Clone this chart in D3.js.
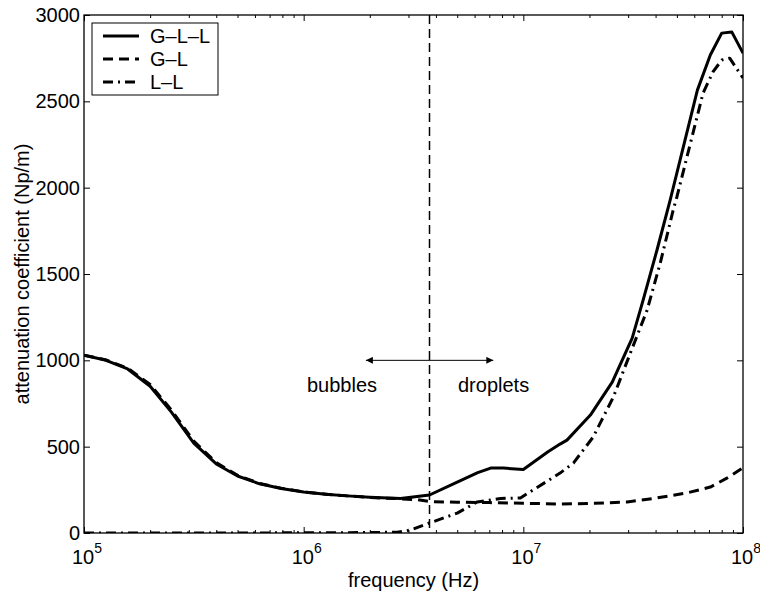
<!DOCTYPE html>
<html>
<head>
<meta charset="utf-8">
<script src="https://cdn.jsdelivr.net/npm/d3@7"></script>
<style>
  body { margin: 0; background: #fff; }
  svg text { font-family: "Liberation Sans", Arial, Helvetica, sans-serif; fill: #000; }
</style>
</head>
<body>
<svg id="chart"></svg>
<script>
// Chart size
const width = 760, height = 594;
const margin = { top: 15, right: 17, bottom: 61, left: 84 };

// Data (frequency in Hz, attenuation in Np/m)
const freqGLL = [1e5, 1.26e5, 1.58e5, 2e5, 2.5e5, 3.16e5, 4e5, 5e5, 6.3e5, 7.9e5, 1e6, 1.26e6, 1.58e6, 2e6, 2.76e6,
  3.74e6, 5e6, 6.2e6, 7.1e6, 8.1e6, 1e7, 1.29e7, 1.47e7, 1.58e7, 2.02e7, 2.54e7, 3.13e7, 3.51e7, 4.06e7, 4.66e7,
  6.2e7, 7.1e7, 8e7, 8.9e7, 1e8];
const gll = [1030, 1000, 950, 850, 700, 520, 400, 330, 285, 258, 238, 225, 215, 207, 200,
  220, 295, 350, 376, 376, 368, 469, 515, 538, 683, 874, 1129, 1349, 1639, 1928,
  2565, 2768, 2895, 2901, 2779];

const freqGL = [1e5, 1.26e5, 1.58e5, 2e5, 2.5e5, 3.16e5, 4e5, 5e5, 6.3e5, 7.9e5, 1e6, 1.26e6, 1.58e6, 2e6, 2.76e6,
  3.3e6, 3.74e6, 5e6, 7e6, 1e7, 1.47e7, 2.1e7, 2.97e7, 4.06e7, 5.56e7, 7.1e7, 8.45e7, 1e8];
const gl = [1030, 1002, 955, 860, 712, 532, 408, 334, 287, 259, 238, 225, 215, 206, 198,
  193, 182, 178, 176, 172, 168, 172, 180, 203, 232, 266, 318, 378];

const freqLL = [1e5, 3e5, 1e6, 1.6e6, 2.2e6, 2.67e6, 3.06e6, 3.74e6, 5e6, 6.17e6, 7.86e6, 9.7e6, 1.11e7, 1.47e7,
  1.69e7, 2.08e7, 2.57e7, 3.07e7, 3.66e7, 4.2e7, 4.81e7, 5e7, 6.58e7, 7.3e7, 8e7, 8.7e7, 1e8];
const ll = [0, 0, 1, 2, 3, 5, 17, 58, 115, 180, 200, 203, 250, 347,
  405, 556, 788, 1042, 1291, 1563, 1870, 1946, 2548, 2670, 2739, 2750, 2635];

const xMajor = [1e5, 1e6, 1e7, 1e8];
const xExp = ["5", "6", "7", "8"];
const yTicks = [0, 500, 1000, 1500, 2000, 2500, 3000];
const legendLabels = ["G\u2013L\u2013L", "G\u2013L", "L\u2013L"];

// Regime boundary and annotations
const boundaryFreq = 3.74e6;
const arrowFrom = 1.92e6, arrowTo = 7.3e6, arrowLevel = 1000;

const svg = d3.select("#chart")
  .attr("width", width)
  .attr("height", height);

const x = d3.scaleLog()
  .domain([1e5, 1e8])
  .range([margin.left, width - margin.right]);

const y = d3.scaleLinear()
  .domain([0, 3000])
  .range([height - margin.bottom, margin.top]);

// Minor log ticks
const xMinor = [];
xMajor.slice(0, -1).forEach(d => {
  for (let k = 2; k <= 9; k++) xMinor.push(d * k);
});

const x0 = margin.left, x1 = width - margin.right;
const y0 = height - margin.bottom, y1 = margin.top;

// Axes (ticks pointing inward, MATLAB style)
svg.append("g")
  .attr("transform", `translate(0,${y0})`)
  .call(d3.axisBottom(x).tickValues(xMajor).tickSize(-6).tickFormat(""));
svg.append("g")
  .attr("transform", `translate(0,${y0})`)
  .call(d3.axisBottom(x).tickValues(xMinor).tickSize(-3).tickFormat(""));
svg.append("g")
  .attr("transform", `translate(0,${y1})`)
  .call(d3.axisTop(x).tickValues(xMajor).tickSize(-6).tickFormat(""));
svg.append("g")
  .attr("transform", `translate(0,${y1})`)
  .call(d3.axisTop(x).tickValues(xMinor).tickSize(-3).tickFormat(""));
svg.append("g")
  .attr("transform", `translate(${x0},0)`)
  .call(d3.axisLeft(y).tickValues(yTicks).tickSize(-6).tickPadding(4).tickFormat(d3.format("d")))
  .selectAll("text")
  .style("font-size", "20px");
svg.append("g")
  .attr("transform", `translate(${x1},0)`)
  .call(d3.axisRight(y).tickValues(yTicks).tickSize(-6).tickFormat(""));

svg.selectAll(".domain").remove();
svg.selectAll(".tick line").attr("stroke", "#000").attr("stroke-width", 1);

// x tick labels as 10^n
xMajor.forEach((d, i) => {
  const t = svg.append("text")
    .attr("x", x(d) - 12)
    .attr("y", y0 + 31)
    .style("font-size", "20px");
  t.append("tspan").text("10");
  t.append("tspan")
    .attr("dy", -11)
    .style("font-size", "14px")
    .text(xExp[i]);
});

// Frame
svg.append("rect")
  .attr("x", x0).attr("y", y1)
  .attr("width", x1 - x0).attr("height", y0 - y1)
  .attr("fill", "none")
  .attr("stroke", "#000")
  .attr("stroke-width", 1.3);

// Curves
const series = [
  { f: freqGLL, v: gll, dash: null },
  { f: freqGL, v: gl, dash: "10,6" },
  { f: freqLL, v: ll, dash: "10,5,2,5" }
];

const line = d3.line()
  .x(d => x(d[0]))
  .y(d => y(d[1]));

svg.append("defs").append("clipPath")
  .attr("id", "plotClip")
  .append("rect")
  .attr("x", x0).attr("y", y1 - 3)
  .attr("width", x1 - x0).attr("height", y0 - y1 + 3);

// draw L-L first so solid sits on top
series.slice().reverse().forEach(s => {
  svg.append("path")
    .datum(d3.zip(s.f, s.v))
    .attr("d", line)
    .attr("clip-path", "url(#plotClip)")
    .attr("fill", "none")
    .attr("stroke", "#000")
    .attr("stroke-width", 3)
    .attr("stroke-linejoin", "round")
    .attr("stroke-dasharray", s.dash);
});

// Boundary between bubbles and droplets
svg.append("line")
  .attr("x1", x(boundaryFreq)).attr("x2", x(boundaryFreq))
  .attr("y1", y1).attr("y2", y0)
  .attr("stroke", "#000")
  .attr("stroke-width", 1.5)
  .attr("stroke-dasharray", "9,5");

// Double-headed arrow
const marker = svg.select("defs").append("marker")
  .attr("id", "arrowHead")
  .attr("viewBox", "0 0 10 10")
  .attr("refX", 10).attr("refY", 5)
  .attr("markerWidth", 9).attr("markerHeight", 7)
  .attr("markerUnits", "userSpaceOnUse")
  .attr("orient", "auto-start-reverse");
marker.append("path").attr("d", "M0,0 L10,5 L0,10 Z").attr("fill", "#000");

svg.append("line")
  .attr("x1", x(arrowFrom)).attr("x2", x(arrowTo))
  .attr("y1", y(arrowLevel)).attr("y2", y(arrowLevel))
  .attr("stroke", "#000")
  .attr("stroke-width", 1)
  .attr("marker-start", "url(#arrowHead)")
  .attr("marker-end", "url(#arrowHead)");

svg.append("text")
  .attr("x", 307).attr("y", 392)
  .style("font-size", "20px")
  .text("bubbles");
svg.append("text")
  .attr("x", 458).attr("y", 392)
  .style("font-size", "20px")
  .text("droplets");

// Axis titles
svg.append("text")
  .attr("x", (x0 + x1) / 2)
  .attr("y", height - 7)
  .attr("text-anchor", "middle")
  .style("font-size", "20px")
  .text("frequency (Hz)");

svg.append("text")
  .attr("transform", `translate(29,${(y0 + y1) / 2}) rotate(-90)`)
  .attr("text-anchor", "middle")
  .style("font-size", "20px")
  .text("attenuation coefficient (Np/m)");

// Legend
const legend = svg.append("g").attr("transform", "translate(92,23)");
legend.append("rect")
  .attr("width", 126).attr("height", 72)
  .attr("fill", "#fff")
  .attr("stroke", "#000")
  .attr("stroke-width", 1);

legendLabels.forEach((lab, i) => {
  const ly = 13 + i * 23;
  legend.append("line")
    .attr("x1", 11).attr("x2", 47)
    .attr("y1", ly).attr("y2", ly)
    .attr("stroke", "#000")
    .attr("stroke-width", 3)
    .attr("stroke-dasharray", series[i].dash);
  legend.append("text")
    .attr("x", 58).attr("y", ly + 7)
    .style("font-size", "20px")
    .text(lab);
});
</script>
</body>
</html>
